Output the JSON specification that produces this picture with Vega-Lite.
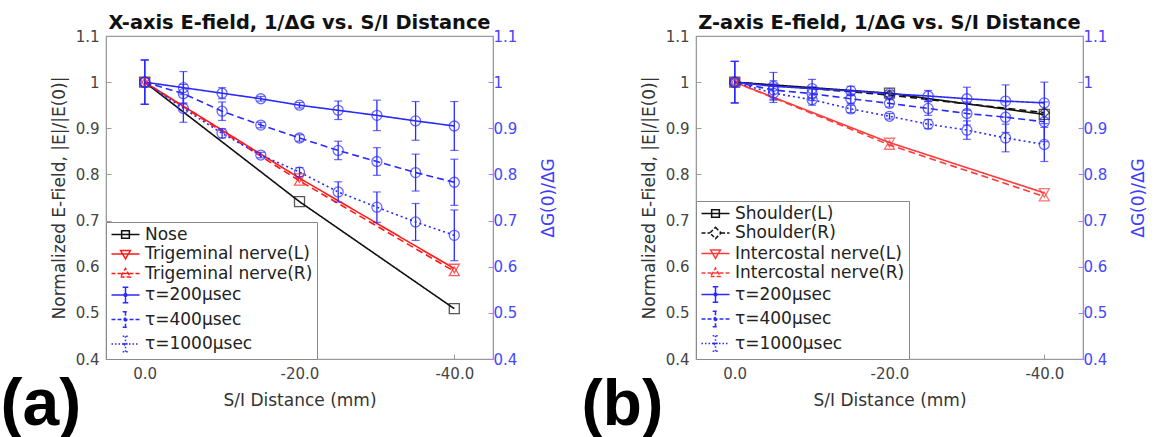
{
  "$schema": "https://vega.github.io/schema/vega-lite/v6.json",
  "padding": {"left": 0, "top": 12, "right": 0, "bottom": 0},
  "config": {
    "font": "DejaVu Sans",
    "view": {"stroke": "#9a9a9a", "strokeWidth": 1.2},
    "axis": {"grid": false, "labelFont": "DejaVu Sans", "labelFontSize": 15, "labelColor": "#444", "titleFont": "DejaVu Sans", "titleFontSize": 17, "titleFontWeight": "normal", "titleColor": "#333", "domainColor": "#9a9a9a", "tickColor": "#9a9a9a", "tickSize": -5, "labelPadding": 12},
    "concat": {"spacing": 23}
  },
  "datasets": {
    "a": [
      {"s": "Nose", "k": "e", "x": 0, "y": 1.0},
      {"s": "Nose", "k": "e", "x": -20, "y": 0.741},
      {"s": "Nose", "k": "e", "x": -40, "y": 0.509},
      {"s": "Trigeminal nerve(L)", "k": "e", "x": 0, "y": 1.0},
      {"s": "Trigeminal nerve(L)", "k": "e", "x": -20, "y": 0.792},
      {"s": "Trigeminal nerve(L)", "k": "e", "x": -40, "y": 0.596},
      {"s": "Trigeminal nerve(R)", "k": "e", "x": 0, "y": 1.0},
      {"s": "Trigeminal nerve(R)", "k": "e", "x": -20, "y": 0.786},
      {"s": "Trigeminal nerve(R)", "k": "e", "x": -40, "y": 0.590},
      {"s": "τ=200μsec", "k": "t", "x": 0, "y": 1.0, "lo": 0.952, "hi": 1.048},
      {"s": "τ=200μsec", "k": "t", "x": -5, "y": 0.988, "lo": 0.953, "hi": 1.023},
      {"s": "τ=200μsec", "k": "t", "x": -10, "y": 0.976, "lo": 0.964, "hi": 0.988},
      {"s": "τ=200μsec", "k": "t", "x": -15, "y": 0.964, "lo": 0.959, "hi": 0.969},
      {"s": "τ=200μsec", "k": "t", "x": -20, "y": 0.950, "lo": 0.944, "hi": 0.956},
      {"s": "τ=200μsec", "k": "t", "x": -25, "y": 0.939, "lo": 0.919, "hi": 0.959},
      {"s": "τ=200μsec", "k": "t", "x": -30, "y": 0.928, "lo": 0.895, "hi": 0.961},
      {"s": "τ=200μsec", "k": "t", "x": -35, "y": 0.916, "lo": 0.874, "hi": 0.958},
      {"s": "τ=200μsec", "k": "t", "x": -40, "y": 0.905, "lo": 0.852, "hi": 0.958},
      {"s": "τ=400μsec", "k": "t", "x": 0, "y": 1.0, "lo": 0.952, "hi": 1.048},
      {"s": "τ=400μsec", "k": "t", "x": -5, "y": 0.975, "lo": 0.955, "hi": 0.995},
      {"s": "τ=400μsec", "k": "t", "x": -10, "y": 0.937, "lo": 0.917, "hi": 0.957},
      {"s": "τ=400μsec", "k": "t", "x": -15, "y": 0.907, "lo": 0.901, "hi": 0.913},
      {"s": "τ=400μsec", "k": "t", "x": -20, "y": 0.879, "lo": 0.872, "hi": 0.886},
      {"s": "τ=400μsec", "k": "t", "x": -25, "y": 0.852, "lo": 0.832, "hi": 0.872},
      {"s": "τ=400μsec", "k": "t", "x": -30, "y": 0.828, "lo": 0.798, "hi": 0.858},
      {"s": "τ=400μsec", "k": "t", "x": -35, "y": 0.804, "lo": 0.764, "hi": 0.844},
      {"s": "τ=400μsec", "k": "t", "x": -40, "y": 0.783, "lo": 0.733, "hi": 0.833},
      {"s": "τ=1000μsec", "k": "t", "x": 0, "y": 1.0, "lo": 0.952, "hi": 1.048},
      {"s": "τ=1000μsec", "k": "t", "x": -5, "y": 0.943, "lo": 0.913, "hi": 0.973},
      {"s": "τ=1000μsec", "k": "t", "x": -10, "y": 0.889, "lo": 0.879, "hi": 0.899},
      {"s": "τ=1000μsec", "k": "t", "x": -15, "y": 0.842, "lo": 0.836, "hi": 0.848},
      {"s": "τ=1000μsec", "k": "t", "x": -20, "y": 0.805, "lo": 0.795, "hi": 0.815},
      {"s": "τ=1000μsec", "k": "t", "x": -25, "y": 0.762, "lo": 0.740, "hi": 0.784},
      {"s": "τ=1000μsec", "k": "t", "x": -30, "y": 0.729, "lo": 0.696, "hi": 0.762},
      {"s": "τ=1000μsec", "k": "t", "x": -35, "y": 0.697, "lo": 0.657, "hi": 0.737},
      {"s": "τ=1000μsec", "k": "t", "x": -40, "y": 0.668, "lo": 0.613, "hi": 0.723}
    ],
    "b": [
      {"s": "Shoulder(L)", "k": "e", "x": 0, "y": 1.0},
      {"s": "Shoulder(L)", "k": "e", "x": -20, "y": 0.976},
      {"s": "Shoulder(L)", "k": "e", "x": -40, "y": 0.930},
      {"s": "Shoulder(R)", "k": "e", "x": 0, "y": 1.0},
      {"s": "Shoulder(R)", "k": "e", "x": -20, "y": 0.972},
      {"s": "Shoulder(R)", "k": "e", "x": -40, "y": 0.934},
      {"s": "Intercostal nerve(L)", "k": "e", "x": 0, "y": 1.0},
      {"s": "Intercostal nerve(L)", "k": "e", "x": -20, "y": 0.869},
      {"s": "Intercostal nerve(L)", "k": "e", "x": -40, "y": 0.760},
      {"s": "Intercostal nerve(R)", "k": "e", "x": 0, "y": 1.0},
      {"s": "Intercostal nerve(R)", "k": "e", "x": -20, "y": 0.864},
      {"s": "Intercostal nerve(R)", "k": "e", "x": -40, "y": 0.752},
      {"s": "τ=200μsec", "k": "t", "x": 0, "y": 1.0, "lo": 0.955, "hi": 1.045},
      {"s": "τ=200μsec", "k": "t", "x": -5, "y": 0.991, "lo": 0.961, "hi": 1.021},
      {"s": "τ=200μsec", "k": "t", "x": -10, "y": 0.986, "lo": 0.966, "hi": 1.006},
      {"s": "τ=200μsec", "k": "t", "x": -15, "y": 0.981, "lo": 0.971, "hi": 0.991},
      {"s": "τ=200μsec", "k": "t", "x": -20, "y": 0.975, "lo": 0.969, "hi": 0.981},
      {"s": "τ=200μsec", "k": "t", "x": -25, "y": 0.970, "lo": 0.958, "hi": 0.982},
      {"s": "τ=200μsec", "k": "t", "x": -30, "y": 0.964, "lo": 0.939, "hi": 0.989},
      {"s": "τ=200μsec", "k": "t", "x": -35, "y": 0.959, "lo": 0.924, "hi": 0.994},
      {"s": "τ=200μsec", "k": "t", "x": -40, "y": 0.955, "lo": 0.910, "hi": 1.000},
      {"s": "τ=400μsec", "k": "t", "x": 0, "y": 1.0, "lo": 0.955, "hi": 1.045},
      {"s": "τ=400μsec", "k": "t", "x": -5, "y": 0.983, "lo": 0.963, "hi": 1.003},
      {"s": "τ=400μsec", "k": "t", "x": -10, "y": 0.975, "lo": 0.960, "hi": 0.990},
      {"s": "τ=400μsec", "k": "t", "x": -15, "y": 0.964, "lo": 0.954, "hi": 0.974},
      {"s": "τ=400μsec", "k": "t", "x": -20, "y": 0.954, "lo": 0.946, "hi": 0.962},
      {"s": "τ=400μsec", "k": "t", "x": -25, "y": 0.943, "lo": 0.928, "hi": 0.958},
      {"s": "τ=400μsec", "k": "t", "x": -30, "y": 0.932, "lo": 0.907, "hi": 0.957},
      {"s": "τ=400μsec", "k": "t", "x": -35, "y": 0.924, "lo": 0.891, "hi": 0.957},
      {"s": "τ=400μsec", "k": "t", "x": -40, "y": 0.914, "lo": 0.871, "hi": 0.957},
      {"s": "τ=1000μsec", "k": "t", "x": 0, "y": 1.0, "lo": 0.955, "hi": 1.045},
      {"s": "τ=1000μsec", "k": "t", "x": -5, "y": 0.976, "lo": 0.956, "hi": 0.996},
      {"s": "τ=1000μsec", "k": "t", "x": -10, "y": 0.962, "lo": 0.950, "hi": 0.974},
      {"s": "τ=1000μsec", "k": "t", "x": -15, "y": 0.942, "lo": 0.934, "hi": 0.950},
      {"s": "τ=1000μsec", "k": "t", "x": -20, "y": 0.926, "lo": 0.920, "hi": 0.932},
      {"s": "τ=1000μsec", "k": "t", "x": -25, "y": 0.909, "lo": 0.899, "hi": 0.919},
      {"s": "τ=1000μsec", "k": "t", "x": -30, "y": 0.896, "lo": 0.876, "hi": 0.916},
      {"s": "τ=1000μsec", "k": "t", "x": -35, "y": 0.879, "lo": 0.849, "hi": 0.909},
      {"s": "τ=1000μsec", "k": "t", "x": -40, "y": 0.865, "lo": 0.828, "hi": 0.902}
    ]
  },
  "hconcat": [
    {
      "title": {"text": "(a)", "orient": "bottom", "anchor": "start", "font": "Liberation Sans", "fontSize": 66, "fontWeight": "bold", "color": "#000", "offset": -36, "dx": -49},
      "vconcat": [
        {
          "title": {"text": "X-axis E-field, 1/ΔG vs. S/I Distance", "font": "DejaVu Sans", "fontSize": 19.4, "fontWeight": "bold", "color": "#111", "offset": -4},
          "width": 387,
          "height": 323,
          "data": {"name": "a"},
          "layer": [
            {
              "mark": {"type": "line", "strokeWidth": 1.6},
              "encoding": {
                "x": {"field": "x", "type": "quantitative", "scale": {"domain": [5, -45], "nice": false, "zero": false}, "axis": {"values": [0, -20, -40], "labelExpr": "datum.value == 0 ? '0.0' : datum.value + '.0'", "title": "S/I Distance (mm)", "titlePadding": 11}},
                "y": {"field": "y", "type": "quantitative", "scale": {"domain": [0.4, 1.1], "nice": false, "zero": false}, "axis": {"orient": "left", "values": [0.4, 0.5, 0.6, 0.7, 0.8, 0.9, 1, 1.1], "labelExpr": "'' + datum.value", "title": "Normalized E-Field, |E|/|E(0)|", "titlePadding": 7}},
                "color": {"field": "s", "type": "nominal", "legend": null, "scale": {"domain": ["Nose", "Trigeminal nerve(L)", "Trigeminal nerve(R)", "τ=200μsec", "τ=400μsec", "τ=1000μsec"], "range": ["#111111", "#ff1a1a", "#ff1a1a", "#2a2aff", "#2a2aff", "#2a2aff"]}},
                "strokeDash": {"field": "s", "type": "nominal", "legend": null, "scale": {"domain": ["Nose", "Trigeminal nerve(L)", "Trigeminal nerve(R)", "τ=200μsec", "τ=400μsec", "τ=1000μsec"], "range": [[1, 0], [1, 0], [7, 4], [1, 0], [7, 4], [2, 3]]}}
              }
            },
            {
              "transform": [{"filter": "datum.k == 't'"}],
              "mark": {"type": "errorbar", "color": "#2a2aff", "ticks": {"size": 8, "thickness": 1.2}, "rule": {"strokeWidth": 1.3}},
              "encoding": {
                "x": {"field": "x", "type": "quantitative"},
                "y": {"field": "lo", "type": "quantitative", "axis": null},
                "y2": {"field": "hi"}
              }
            },
            {
              "mark": {"type": "point", "filled": false, "strokeWidth": 1.3, "size": 100},
              "encoding": {
                "x": {"field": "x", "type": "quantitative"},
                "y": {"field": "y", "type": "quantitative", "axis": null},
                "color": {"field": "s", "type": "nominal", "legend": null, "scale": {"domain": ["Nose", "Trigeminal nerve(L)", "Trigeminal nerve(R)", "τ=200μsec", "τ=400μsec", "τ=1000μsec"], "range": ["#111111", "#ff1a1a", "#ff1a1a", "#2a2aff", "#2a2aff", "#2a2aff"]}},
                "shape": {"field": "s", "type": "nominal", "legend": null, "scale": {"domain": ["Nose", "Trigeminal nerve(L)", "Trigeminal nerve(R)", "τ=200μsec", "τ=400μsec", "τ=1000μsec"], "range": ["square", "triangle-down", "triangle-up", "circle", "circle", "circle"]}}
              }
            },
            {
              "mark": {"type": "point", "filled": false, "opacity": 0},
              "encoding": {
                "x": {"field": "x", "type": "quantitative"},
                "y": {"field": "y", "type": "quantitative", "axis": {"orient": "right", "values": [0.4, 0.5, 0.6, 0.7, 0.8, 0.9, 1, 1.1], "labelExpr": "'' + datum.value", "title": "ΔG(0)/ΔG", "titleAngle": -90, "titlePadding": 41, "labelColor": "#4646ff", "titleColor": "#3c3cff", "domainColor": "#8c8cff", "tickColor": "#8c8cff", "labelPadding": 5}},
                "color": {"field": "s", "type": "nominal", "scale": {"domain": ["Nose", "Trigeminal nerve(L)", "Trigeminal nerve(R)", "τ=200μsec", "τ=400μsec", "τ=1000μsec"], "range": ["#111111", "#ff1a1a", "#ff1a1a", "#2a2aff", "#2a2aff", "#2a2aff"]}, "legend": {"title": null, "orient": "bottom-left", "offset": 0, "padding": 4, "fillColor": "#ffffff", "strokeColor": "#8a8a8a", "symbolSize": 196, "symbolStrokeWidth": 1.5, "symbolOffset": 7, "labelOffset": 11, "labelFontSize": 17, "labelFont": "DejaVu Sans", "labelColor": "#222", "rowPadding": 1.5, "symbolOpacity": 1, "labelLimit": 300}},
                "strokeDash": {"field": "s", "type": "nominal", "scale": {"domain": ["Nose", "Trigeminal nerve(L)", "Trigeminal nerve(R)", "τ=200μsec", "τ=400μsec", "τ=1000μsec"], "range": [[1, 0], [1, 0], [4, 2], [1, 0], [4, 2], [1.5, 2]]}, "legend": {"title": null, "orient": "bottom-left", "offset": 0, "padding": 4, "fillColor": "#ffffff", "strokeColor": "#8a8a8a", "symbolSize": 196, "symbolStrokeWidth": 1.5, "symbolOffset": 7, "labelOffset": 11, "labelFontSize": 17, "labelFont": "DejaVu Sans", "labelColor": "#222", "rowPadding": 1.5, "symbolOpacity": 1, "labelLimit": 300}},
                "shape": {"field": "s", "type": "nominal", "scale": {"domain": ["Nose", "Trigeminal nerve(L)", "Trigeminal nerve(R)", "τ=200μsec", "τ=400μsec", "τ=1000μsec"], "range": ["M-2,0H2M-0.55,-0.55H0.55V0.55H-0.55Z", "M-2,0H2M-0.7,-0.5H0.7L0,0.7Z", "M-2,0H2M-0.7,0.5H0.7L0,-0.7Z", "M-2,0H2M0,-1.1V1.1M-0.4,-1.1H0.4M-0.4,1.1H0.4M-0.2,0A0.2,0.2 0 1,0 0.2,0A0.2,0.2 0 1,0 -0.2,0", "M-2,0H2M0,-1.1V1.1M-0.4,-1.1H0.4M-0.4,1.1H0.4M-0.2,0A0.2,0.2 0 1,0 0.2,0A0.2,0.2 0 1,0 -0.2,0", "M-2,0H2M0,-1.1V1.1M-0.4,-1.1H0.4M-0.4,1.1H0.4M-0.2,0A0.2,0.2 0 1,0 0.2,0A0.2,0.2 0 1,0 -0.2,0"]}, "legend": {"title": null, "orient": "bottom-left", "offset": 0, "padding": 4, "fillColor": "#ffffff", "strokeColor": "#8a8a8a", "symbolSize": 196, "symbolStrokeWidth": 1.5, "symbolOffset": 7, "labelOffset": 11, "labelFontSize": 17, "labelFont": "DejaVu Sans", "labelColor": "#222", "rowPadding": 1.5, "symbolOpacity": 1, "labelLimit": 300}}
              }
            }
          ],
          "resolve": {"scale": {"color": "independent", "strokeDash": "independent", "shape": "independent"}, "axis": {"y": "independent"}}
        }
      ]
    },
    {
      "title": {"text": "(b)", "orient": "bottom", "anchor": "start", "font": "Liberation Sans", "fontSize": 64, "fontWeight": "bold", "color": "#000", "offset": -35, "dx": -58},
      "vconcat": [
        {
          "title": {"text": "Z-axis E-field, 1/ΔG vs. S/I Distance", "font": "DejaVu Sans", "fontSize": 19.4, "fontWeight": "bold", "color": "#111", "offset": -4},
          "width": 387,
          "height": 323,
          "data": {"name": "b"},
          "layer": [
            {
              "mark": {"type": "line", "strokeWidth": 1.6},
              "encoding": {
                "x": {"field": "x", "type": "quantitative", "scale": {"domain": [5, -45], "nice": false, "zero": false}, "axis": {"values": [0, -20, -40], "labelExpr": "datum.value == 0 ? '0.0' : datum.value + '.0'", "title": "S/I Distance (mm)", "titlePadding": 11}},
                "y": {"field": "y", "type": "quantitative", "scale": {"domain": [0.4, 1.1], "nice": false, "zero": false}, "axis": {"orient": "left", "values": [0.4, 0.5, 0.6, 0.7, 0.8, 0.9, 1, 1.1], "labelExpr": "'' + datum.value", "title": "Normalized E-Field, |E|/|E(0)|", "titlePadding": 7}},
                "color": {"field": "s", "type": "nominal", "legend": null, "scale": {"domain": ["Shoulder(L)", "Shoulder(R)", "Intercostal nerve(L)", "Intercostal nerve(R)", "τ=200μsec", "τ=400μsec", "τ=1000μsec"], "range": ["#111111", "#111111", "#ff3a3a", "#ff3a3a", "#2a2aff", "#2a2aff", "#2a2aff"]}},
                "strokeDash": {"field": "s", "type": "nominal", "legend": null, "scale": {"domain": ["Shoulder(L)", "Shoulder(R)", "Intercostal nerve(L)", "Intercostal nerve(R)", "τ=200μsec", "τ=400μsec", "τ=1000μsec"], "range": [[1, 0], [7, 4], [1, 0], [7, 4], [1, 0], [7, 4], [2, 3]]}}
              }
            },
            {
              "transform": [{"filter": "datum.k == 't'"}],
              "mark": {"type": "errorbar", "color": "#2a2aff", "ticks": {"size": 8, "thickness": 1.2}, "rule": {"strokeWidth": 1.3}},
              "encoding": {
                "x": {"field": "x", "type": "quantitative"},
                "y": {"field": "lo", "type": "quantitative", "axis": null},
                "y2": {"field": "hi"}
              }
            },
            {
              "mark": {"type": "point", "filled": false, "strokeWidth": 1.3, "size": 100},
              "encoding": {
                "x": {"field": "x", "type": "quantitative"},
                "y": {"field": "y", "type": "quantitative", "axis": null},
                "color": {"field": "s", "type": "nominal", "legend": null, "scale": {"domain": ["Shoulder(L)", "Shoulder(R)", "Intercostal nerve(L)", "Intercostal nerve(R)", "τ=200μsec", "τ=400μsec", "τ=1000μsec"], "range": ["#111111", "#111111", "#ff3a3a", "#ff3a3a", "#2a2aff", "#2a2aff", "#2a2aff"]}},
                "shape": {"field": "s", "type": "nominal", "legend": null, "scale": {"domain": ["Shoulder(L)", "Shoulder(R)", "Intercostal nerve(L)", "Intercostal nerve(R)", "τ=200μsec", "τ=400μsec", "τ=1000μsec"], "range": ["square", "diamond", "triangle-down", "triangle-up", "circle", "circle", "circle"]}}
              }
            },
            {
              "mark": {"type": "point", "filled": false, "opacity": 0},
              "encoding": {
                "x": {"field": "x", "type": "quantitative"},
                "y": {"field": "y", "type": "quantitative", "axis": {"orient": "right", "values": [0.4, 0.5, 0.6, 0.7, 0.8, 0.9, 1, 1.1], "labelExpr": "'' + datum.value", "title": "ΔG(0)/ΔG", "titleAngle": -90, "titlePadding": 41, "labelColor": "#4646ff", "titleColor": "#3c3cff", "domainColor": "#8c8cff", "tickColor": "#8c8cff", "labelPadding": 5}},
                "color": {"field": "s", "type": "nominal", "scale": {"domain": ["Shoulder(L)", "Shoulder(R)", "Intercostal nerve(L)", "Intercostal nerve(R)", "τ=200μsec", "τ=400μsec", "τ=1000μsec"], "range": ["#111111", "#111111", "#ff3a3a", "#ff3a3a", "#2a2aff", "#2a2aff", "#2a2aff"]}, "legend": {"title": null, "orient": "bottom-left", "offset": 0, "padding": 4, "fillColor": "#ffffff", "strokeColor": "#8a8a8a", "symbolSize": 196, "symbolStrokeWidth": 1.5, "symbolOffset": 7, "labelOffset": 11, "labelFontSize": 17, "labelFont": "DejaVu Sans", "labelColor": "#222", "rowPadding": 1.5, "symbolOpacity": 1, "labelLimit": 300}},
                "strokeDash": {"field": "s", "type": "nominal", "scale": {"domain": ["Shoulder(L)", "Shoulder(R)", "Intercostal nerve(L)", "Intercostal nerve(R)", "τ=200μsec", "τ=400μsec", "τ=1000μsec"], "range": [[1, 0], [4, 2], [1, 0], [4, 2], [1, 0], [4, 2], [1.5, 2]]}, "legend": {"title": null, "orient": "bottom-left", "offset": 0, "padding": 4, "fillColor": "#ffffff", "strokeColor": "#8a8a8a", "symbolSize": 196, "symbolStrokeWidth": 1.5, "symbolOffset": 7, "labelOffset": 11, "labelFontSize": 17, "labelFont": "DejaVu Sans", "labelColor": "#222", "rowPadding": 1.5, "symbolOpacity": 1, "labelLimit": 300}},
                "shape": {"field": "s", "type": "nominal", "scale": {"domain": ["Shoulder(L)", "Shoulder(R)", "Intercostal nerve(L)", "Intercostal nerve(R)", "τ=200μsec", "τ=400μsec", "τ=1000μsec"], "range": ["M-2,0H2M-0.55,-0.55H0.55V0.55H-0.55Z", "M-2,0H-0.8M0.8,0H2M0,-0.8L0.8,0L0,0.8L-0.8,0Z", "M-2,0H2M-0.7,-0.5H0.7L0,0.7Z", "M-2,0H2M-0.7,0.5H0.7L0,-0.7Z", "M-2,0H2M0,-1.1V1.1M-0.4,-1.1H0.4M-0.4,1.1H0.4M-0.2,0A0.2,0.2 0 1,0 0.2,0A0.2,0.2 0 1,0 -0.2,0", "M-2,0H2M0,-1.1V1.1M-0.4,-1.1H0.4M-0.4,1.1H0.4M-0.2,0A0.2,0.2 0 1,0 0.2,0A0.2,0.2 0 1,0 -0.2,0", "M-2,0H2M0,-1.1V1.1M-0.4,-1.1H0.4M-0.4,1.1H0.4M-0.2,0A0.2,0.2 0 1,0 0.2,0A0.2,0.2 0 1,0 -0.2,0"]}, "legend": {"title": null, "orient": "bottom-left", "offset": 0, "padding": 4, "fillColor": "#ffffff", "strokeColor": "#8a8a8a", "symbolSize": 196, "symbolStrokeWidth": 1.5, "symbolOffset": 7, "labelOffset": 11, "labelFontSize": 17, "labelFont": "DejaVu Sans", "labelColor": "#222", "rowPadding": 1.5, "symbolOpacity": 1, "labelLimit": 300}}
              }
            }
          ],
          "resolve": {"scale": {"color": "independent", "strokeDash": "independent", "shape": "independent"}, "axis": {"y": "independent"}}
        }
      ]
    }
  ]
}
